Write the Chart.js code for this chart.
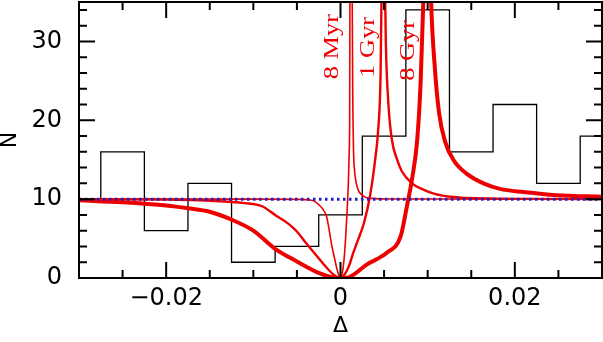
<!DOCTYPE html>
<html>
<head>
<meta charset="utf-8">
<script src="https://cdn.jsdelivr.net/npm/chart.js@4"></script>
<style>
  html, body { margin: 0; padding: 0; background: #fff; }
  canvas { display: block; }
</style>
</head>
<body>
<canvas id="deltaChart" width="603" height="342"></canvas>
<script>
// Histogram of observed values (bin centres, counts)
const binCentres = [-0.03, -0.025, -0.02, -0.015, -0.01, -0.005, 0, 0.005, 0.01, 0.015, 0.02, 0.025, 0.03];
const binCounts  = [10, 16, 6, 12, 2, 4, 8, 18, 34, 16, 22, 12, 18];
const binWidth = 0.005;

// Flat (uniform) expectation
const flatX = [-0.03, 0.03];
const flatN = [10, 10];

// Model curves (null = break at the pole)
const myrX = [-0.03, -0.01, -0.005, -0.0035, -0.003, -0.0025, -0.002, -0.0016, -0.0013, -0.001, -0.0007, -0.0004, -0.0002, 0,
              0.0002, 0.0004, 0.0006, 0.0008, 0.0009, 0.001, 0.00105, 0.0011, 0.0012,
              0.0013, 0.0014, 0.0015, 0.0016, 0.0019, 0.0025, 0.0035, 0.006, 0.03];
const myrN = [10, 10, 9.97, 9.9, 9.75, 9.3, 8.7, 7.8, 6.1, 4.1, 2.6, 1.1, 0.4, 0,
              0.6, 2.3, 5.3, 9.5, 12, 16, 20, 45, null,
              45, 24, 16, 13.8, 11.6, 10.5, 10.1, 10.02, 10];

const gyr1X = [-0.03, -0.02, -0.015, -0.011, -0.009, -0.0075, -0.006, -0.005, -0.004, -0.0025, -0.0015, -0.0007, 0,
               0.0005, 0.001, 0.0015, 0.002, 0.0027, 0.0034, 0.004, 0.0043, 0.0046, 0.0048, 0.0049,
               0.005, 0.0052, 0.0055, 0.0059, 0.0065, 0.007, 0.0082, 0.0095, 0.0107, 0.0126, 0.0145, 0.02, 0.03];
const gyr1N = [10, 9.95, 9.8, 9.5, 9.1, 8.0, 6.9, 5.9, 4.5, 2.5, 1.2, 0.35, 0,
               0.5, 1.6, 3.3, 4.8, 7, 10.5, 15.2, 18.5, 26, 45, null,
               45, 30, 22, 17.5, 15, 13.6, 12, 11.2, 10.7, 10.3, 10.15, 10.03, 10];

const gyr8X = [-0.03, -0.025, -0.02, -0.0175, -0.015, -0.0125, -0.01, -0.0075, -0.005, -0.0025, -0.001, 0,
               0.001, 0.003, 0.0053, 0.0069, 0.0076, 0.0082, 0.0088, 0.0092, 0.0095, 0.0097, 0.0099,
               0.0102, 0.0104, 0.0108, 0.0113, 0.012, 0.013, 0.0145, 0.0164, 0.0183, 0.021, 0.0248, 0.03];
const gyr8N = [9.85, 9.6, 9.2, 8.85, 8.4, 7.4, 6.0, 3.7, 2.1, 0.65, 0.1, 0,
               0.12, 1.7, 3.2, 5.3, 9, 12.5, 17.5, 25, 35, 45, null,
               45, 35, 27, 21, 17.3, 14.9, 13.2, 12.0, 11.3, 10.9, 10.5, 10.3];

// Curve labels
const curveLabels = ['8 Myr', '1 Gyr', '8 Gyr'];
const labelDelta  = [-0.00025, 0.0038, 0.00845];
const labelN      = [25.2, 25.4, 25.0];

// Axis ticks
const xMajor = [-0.02, 0, 0.02];
const xTickText = ['\u22120.02', '0', '0.02'];
const xMinor = [-0.025, -0.015, -0.01, -0.005, 0.005, 0.01, 0.015, 0.025];
const yMajor = [0, 10, 20, 30];
const yMinor = [2, 4, 6, 8, 12, 14, 16, 18, 22, 24, 26, 28, 32, 34];

const toPoints = (xs, ys) => xs.map((x, i) => ({ x: x, y: ys[i] }));

// step outline of the histogram
const histPoints = binCentres.map((c, i) => ({ x: c - binWidth / 2, y: binCounts[i] }));
histPoints.push({ x: binCentres[binCentres.length - 1] + binWidth / 2, y: binCounts[binCounts.length - 1] });

const red = '#ee0000';

// frame, inward ticks and curve labels
const frameTicks = {
  id: 'frameTicks',
  afterDatasetsDraw(chart) {
    const { ctx, chartArea: a, scales: { x, y } } = chart;
    ctx.save();
    ctx.strokeStyle = '#000';
    ctx.lineWidth = 2;
    ctx.strokeRect(a.left, a.top, a.right - a.left, a.bottom - a.top);
    ctx.beginPath();
    const xTicks = (vals, len) => vals.forEach(v => {
      const px = x.getPixelForValue(v);
      ctx.moveTo(px, a.bottom); ctx.lineTo(px, a.bottom - len);
      ctx.moveTo(px, a.top); ctx.lineTo(px, a.top + len);
    });
    const yTicks = (vals, len) => vals.forEach(v => {
      const py = y.getPixelForValue(v);
      ctx.moveTo(a.left, py); ctx.lineTo(a.left + len, py);
      ctx.moveTo(a.right, py); ctx.lineTo(a.right - len, py);
    });
    xTicks(xMajor, 16);
    xTicks(xMinor, 8);
    yTicks(yMajor, 16);
    yTicks(yMinor, 8);
    ctx.stroke();

    ctx.fillStyle = red;
    ctx.font = '22px "Liberation Serif", "Times New Roman", serif';
    ctx.textAlign = 'left';
    ctx.textBaseline = 'alphabetic';
    curveLabels.forEach((t, i) => {
      ctx.save();
      ctx.translate(x.getPixelForValue(labelDelta[i]), y.getPixelForValue(labelN[i]));
      ctx.rotate(-Math.PI / 2);
      ctx.scale(1.2, 1);
      ctx.fillText(t, 0, 0);
      ctx.restore();
    });
    ctx.restore();
  }
};

// drop the extra room Chart.js keeps for half-labels
const noPad = s => { s.paddingTop = 0; s.paddingBottom = 0; s.paddingLeft = 0; s.paddingRight = 0; };

const ctx = document.getElementById('deltaChart').getContext('2d');
const deltaChart = new Chart(ctx, {
  type: 'line',
  data: {
    datasets: [
      {
        data: toPoints(flatX, flatN),
        borderColor: 'rgb(30,30,200)',
        borderWidth: 3,
        borderDash: [2.5, 3.5]
      },
      { data: toPoints(myrX, myrN), borderColor: red, borderWidth: 1.6, cubicInterpolationMode: 'monotone' },
      { data: toPoints(gyr1X, gyr1N), borderColor: red, borderWidth: 2.4, cubicInterpolationMode: 'monotone' },
      { data: toPoints(gyr8X, gyr8N), borderColor: red, borderWidth: 4, cubicInterpolationMode: 'monotone' },
      {
        data: histPoints,
        borderColor: '#000',
        borderWidth: 1.3,
        stepped: 'before'
      }
    ]
  },
  options: {
    responsive: false,
    animation: false,
    events: [],
    spanGaps: false,
    elements: { point: { radius: 0 } },
    layout: { autoPadding: false, padding: { top: 2, right: 1 } },
    plugins: { legend: { display: false }, tooltip: { enabled: false } },
    scales: {
      x: {
        type: 'linear',
        min: -0.03,
        max: 0.03,
        afterFit: s => { s.height = 64; noPad(s); },
        afterBuildTicks: s => { s.ticks = xMajor.map(v => ({ value: v })); },
        grid: { display: false, drawTicks: false },
        border: { display: false },
        ticks: {
          color: '#000',
          padding: 6,
          maxRotation: 0,
          font: { family: '"DejaVu Sans", sans-serif', size: 24 },
          callback: v => xTickText[xMajor.indexOf(v)]
        },
        title: {
          display: true,
          text: '\u0394',
          color: '#000',
          font: { family: '"DejaVu Sans", sans-serif', size: 22, lineHeight: 1 },
          padding: { top: 0, bottom: 5 }
        }
      },
      y: {
        min: 0,
        max: 35,
        afterFit: s => { s.width = 79; noPad(s); },
        afterBuildTicks: s => { s.ticks = yMajor.map(v => ({ value: v })); },
        grid: { display: false, drawTicks: false },
        border: { display: false },
        ticks: {
          color: '#000',
          padding: 17,
          font: { family: '"DejaVu Sans", sans-serif', size: 24 }
        },
        title: {
          display: true,
          text: 'N',
          color: '#000',
          font: { family: '"DejaVu Sans", sans-serif', size: 22, lineHeight: 1 },
          padding: { top: -1, bottom: 0 }
        }
      }
    }
  },
  plugins: [frameTicks]
});
</script>
</body>
</html>
